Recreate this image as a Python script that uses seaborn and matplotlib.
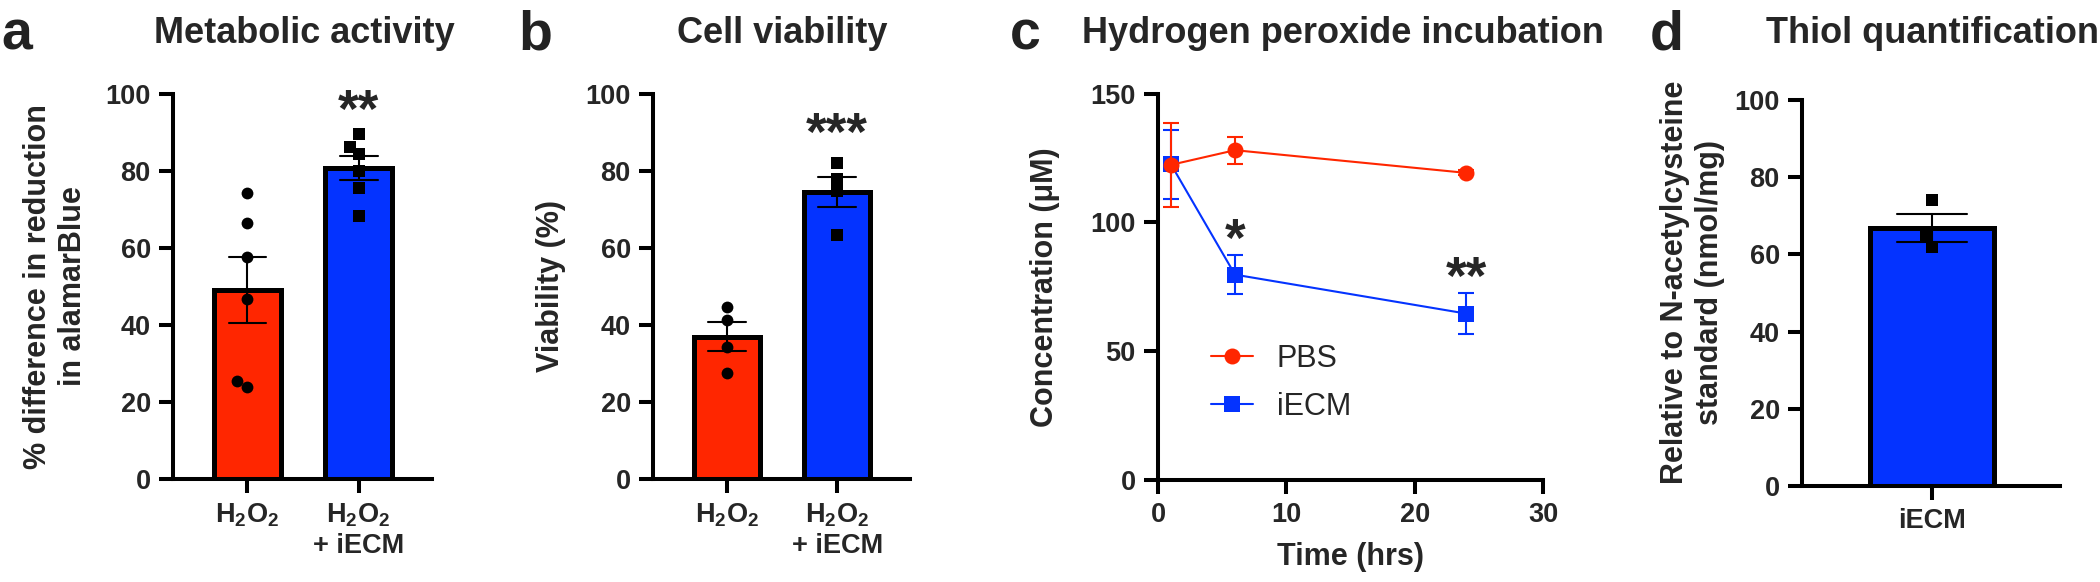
import numpy as np
import pandas as pd
import matplotlib
matplotlib.use("Agg")
import matplotlib.pyplot as plt
import seaborn as sns

# ---------------- data ----------------
bar_groups = ["H2O2", "H2O2 + iECM"]
bar_ticklabels = ["H$_2$O$_2$", "H$_2$O$_2$\n+ iECM"]
metabolic_h2o2 = [74.2, 66.5, 57.6, 46.7, 23.8, 25.5]
metabolic_iecm = [89.6, 86.2, 84.3, 80.0, 75.6, 68.2]
viability_h2o2 = [44.7, 41.2, 34.3, 27.6]
viability_iecm = [82.0, 77.7, 74.8, 63.3]
time_hrs = [1, 6, 24]
pbs_conc = [122.3, 128.0, 119.2]
pbs_err = [16.4, 5.2, 1.0]
iecm_conc = [122.6, 79.7, 64.6]
iecm_err = [13.4, 7.5, 8.0]
thiol_group = ["iECM"]
thiol_values = [74.0, 64.5, 62.0]
star_a = "**"
star_b = "***"
star_c = ["", "*", "**"]

RED = "#FF2600"
BLUE = "#0433FF"

sns.set_style("ticks")
plt.rcParams["font.family"] = ["Liberation Sans", "DejaVu Sans"]
plt.rcParams["mathtext.fontset"] = "custom"
plt.rcParams["mathtext.rm"] = "Liberation Sans:bold"
plt.rcParams["mathtext.it"] = "Liberation Sans:bold"
plt.rcParams["mathtext.bf"] = "Liberation Sans:bold"
plt.rcParams["mathtext.default"] = "rm"

W, H = 2100, 582
fig = plt.figure(figsize=(W / 100, H / 100), dpi=100)


def rect(l, r, t, b):
    return [l / W, 1 - b / H, (r - l) / W, (b - t) / H]


SPINE_W = 2.9
TICK_FS = 19.5
LABEL_FS = 22
STAR_FS = 38


def style_axes(ax):
    sns.despine(ax=ax)
    for s in ["left", "bottom"]:
        ax.spines[s].set_linewidth(SPINE_W)
        ax.spines[s].set_color("black")
    ax.tick_params(axis="both", direction="out", length=10, width=SPINE_W,
                   color="black", labelsize=TICK_FS, pad=6)
    for lab in ax.get_xticklabels() + ax.get_yticklabels():
        lab.set_fontweight("bold")


def bar_panel(ax, g1, g2, ylabel, star, star_y):
    df = pd.DataFrame({
        "group": [bar_groups[0]] * len(g1) + [bar_groups[1]] * len(g2),
        "value": list(g1) + list(g2),
    })
    sns.barplot(data=df, x="group", y="value", hue="group", order=bar_groups,
                palette=[RED, BLUE], legend=False, width=0.6, saturation=1,
                edgecolor="black", linewidth=3.6, errorbar="se", capsize=0.34,
                err_kws={"color": "black", "linewidth": 1.5}, ax=ax)
    sns.swarmplot(data=df[df.group == bar_groups[0]], x="group", y="value",
                  order=bar_groups, color="black", size=8.5, marker="o",
                  ax=ax, zorder=4)
    sns.swarmplot(data=df[df.group == bar_groups[1]], x="group", y="value",
                  order=bar_groups, color="black", size=8.0, marker="s",
                  ax=ax, zorder=4)
    ax.set_xlim(-0.67, 1.66)
    ax.set_ylim(0, 100)
    ax.set_yticks([0, 20, 40, 60, 80, 100])
    ax.set_xticks([0, 1])
    ax.set_xticklabels(bar_ticklabels)
    ax.set_xlabel("")
    ax.set_ylabel(ylabel, fontsize=LABEL_FS, fontweight="bold")
    ax.text(1, star_y, star, ha="center", va="center", fontsize=STAR_FS,
            fontweight="bold")
    style_axes(ax)


# ---------------- panel a ----------------
ax_a = fig.add_axes(rect(173, 432, 93.5, 479))
bar_panel(ax_a, metabolic_h2o2, metabolic_iecm,
          "% difference in reduction\nin alamarBlue", star_a, 95)
ax_a.yaxis.set_label_coords(-0.33, 0.5)

# ---------------- panel b ----------------
ax_b = fig.add_axes(rect(653, 910, 93.5, 479))
bar_panel(ax_b, viability_h2o2, viability_iecm, "Viability (%)", star_b, 89)
ax_b.yaxis.set_label_coords(-0.34, 0.5)

# ---------------- panel c ----------------
ax_c = fig.add_axes(rect(1158, 1543, 93.5, 480))
df_c = pd.DataFrame({
    "time": time_hrs * 2,
    "conc": iecm_conc + pbs_conc,
    "group": ["iECM"] * 3 + ["PBS"] * 3,
})
sns.lineplot(data=df_c, x="time", y="conc", hue="group", style="group",
             hue_order=["iECM", "PBS"], style_order=["iECM", "PBS"],
             palette={"iECM": BLUE, "PBS": RED},
             markers={"iECM": "s", "PBS": "o"}, dashes=False,
             markersize=11.5, markeredgewidth=0, linewidth=1.5, ax=ax_c)
ax_c.errorbar(time_hrs, iecm_conc, yerr=iecm_err, fmt="none", ecolor=BLUE,
              elinewidth=1.5, capsize=6, capthick=1.5, zorder=1.5)
ax_c.errorbar(time_hrs, pbs_conc, yerr=pbs_err, fmt="none", ecolor=RED,
              elinewidth=1.5, capsize=6, capthick=1.5, zorder=2.5)
for t, v, e, s in zip(time_hrs, iecm_conc, iecm_err, star_c):
    if s:
        ax_c.text(t, v + e + 5, s, ha="center", va="center",
                  fontsize=STAR_FS, fontweight="bold")
ax_c.set_xlim(0, 30)
ax_c.set_ylim(0, 150)
ax_c.set_xticks([0, 10, 20, 30])
ax_c.set_yticks([0, 50, 100, 150])
ax_c.set_xlabel("Time (hrs)", fontsize=LABEL_FS, fontweight="bold", labelpad=10)
ax_c.set_ylabel("Concentration (μM)", fontsize=LABEL_FS, fontweight="bold")
ax_c.yaxis.set_label_coords(-0.255, 0.5)
handles, labels = ax_c.get_legend_handles_labels()
hmap = dict(zip(labels, handles))
leg_h = [hmap["PBS"], hmap["iECM"]]
for h in leg_h:
    h.set_markersize(11.5)
    h.set_linewidth(1.5)
    h.set_markeredgewidth(0)
ax_c.legend(leg_h, ["PBS", "iECM"], loc="center left",
            bbox_to_anchor=(0.138, 0.251), frameon=False, fontsize=22,
            handlelength=1.37, handletextpad=0.78, labelspacing=0.6,
            borderpad=0, borderaxespad=0)
style_axes(ax_c)

# ---------------- panel d ----------------
ax_d = fig.add_axes(rect(1802, 2060, 100, 486))
df_d = pd.DataFrame({"group": thiol_group * len(thiol_values),
                     "value": thiol_values})
sns.barplot(data=df_d, x="group", y="value", color=BLUE, width=0.6,
            saturation=1, edgecolor="black", linewidth=3.6, errorbar="se",
            capsize=0.34, err_kws={"color": "black", "linewidth": 1.5}, ax=ax_d)
sns.swarmplot(data=df_d, x="group", y="value", color="black", size=8.0,
              marker="s", ax=ax_d, zorder=4)
ax_d.set_xlim(-0.63, 0.62)
ax_d.set_ylim(0, 100)
ax_d.set_yticks([0, 20, 40, 60, 80, 100])
ax_d.set_xlabel("")
ax_d.set_ylabel("Relative to N-acetylcysteine\nstandard (nmol/mg)",
                fontsize=LABEL_FS, fontweight="bold")
ax_d.yaxis.set_label_coords(-0.30, 0.528)
style_axes(ax_d)

# ---------------- titles and panel letters ----------------
titles = [(304, "Metabolic activity"), (782, "Cell viability"),
          (1343, "Hydrogen peroxide incubation"), (1932, "Thiol quantification")]
for x, t in titles:
    fig.text(x / W, 1 - 43 / H, t, ha="center", va="baseline", fontsize=26,
             fontweight="bold")
letters = [(1, "a"), (518, "b"), (1010, "c"), (1650, "d")]
for x, t in letters:
    fig.text(x / W, 1 - 50 / H, t, ha="left", va="baseline", fontsize=40,
             fontweight="bold", color="#222222")

fig.savefig("out.png", dpi=100)
